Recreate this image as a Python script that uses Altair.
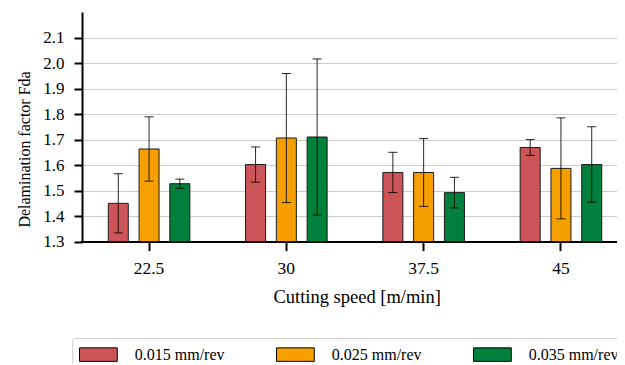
import altair as alt
import pandas as pd

speeds = ["22.5", "30", "37.5", "45"]
feeds = ["0.015 mm/rev", "0.025 mm/rev", "0.035 mm/rev"]
fda_015 = [1.450, 1.602, 1.571, 1.669]
fda_025 = [1.663, 1.706, 1.571, 1.587]
fda_035 = [1.527, 1.710, 1.492, 1.602]
err_015 = [0.116, 0.069, 0.079, 0.031]
err_025 = [0.126, 0.253, 0.133, 0.198]
err_035 = [0.018, 0.306, 0.060, 0.148]
colors = ["#CD5557", "#F5A000", "#00803A"]
y_ticks = [1.3, 1.4, 1.5, 1.6, 1.7, 1.8, 1.9, 2.0, 2.1]

rows = []
for feed, vals, errs in zip(feeds, [fda_015, fda_025, fda_035], [err_015, err_025, err_035]):
    for s, v, e in zip(speeds, vals, errs):
        rows.append(dict(speed=s, feed=feed, fda=v, lo=v - e, hi=v + e))
df = pd.DataFrame(rows)

FONT = "Liberation Serif"

x_axis = alt.Axis(
    title="Cutting speed [m/min]",
    labelAngle=0,
    grid=False,
    domainColor="black",
    domainWidth=2,
    tickColor="black",
    tickWidth=2,
    tickSize=9,
    labelFont=FONT,
    labelFontSize=17.5,
    labelPadding=9,
    labelColor="black",
    titleFont=FONT,
    titleFontSize=18.5,
    titleFontWeight="normal",
    titleColor="black",
    titleX=274.7,
    titleY=54.7,
    titleBaseline="middle",
    titleAlign="center",
)
y_axis = alt.Axis(
    values=y_ticks,
    format=".1f",
    labelOverlap=False,
    title="Delamination factor Fda",
    grid=True,
    gridColor="#cccccc",
    gridWidth=1,
    domainColor="black",
    domainWidth=2,
    tickColor="black",
    tickWidth=2,
    tickSize=8,
    labelFont=FONT,
    labelFontSize=17,
    labelPadding=10,
    labelColor="black",
    titleFont=FONT,
    titleFontSize=16,
    titleFontWeight="normal",
    titleColor="black",
    titleX=-58,
    titleY=137,
    titleAngle=270,
    titleBaseline="middle",
    titleAlign="center",
)

x_enc = alt.X(
    "speed:N",
    sort=speeds,
    scale=alt.Scale(range=[-1.6, 547.6], paddingInner=0.406, paddingOuter=0.203),
    axis=x_axis,
)
xoff = alt.XOffset("feed:N", sort=feeds, scale=alt.Scale(paddingInner=0.35, paddingOuter=0))

y_scale = alt.Scale(domain=[1.3, 2.2], zero=False, nice=False)

bars = alt.Chart(df).mark_bar(stroke="#1a1a1a", strokeWidth=1).encode(
    x=x_enc,
    xOffset=xoff,
    y=alt.Y("fda:Q", scale=y_scale, axis=y_axis),
    y2=alt.Y2Datum(1.3),
    color=alt.Color(
        "feed:N",
        sort=feeds,
        scale=alt.Scale(domain=feeds, range=colors),
        legend=alt.Legend(
            title=None,
            orient="none",
            legendX=-9.7,
            legendY=326,
            direction="horizontal",
            symbolType="M-0.69,-0.5H2.11V0.5H-0.69Z",
            symbolSize=729,
            symbolStrokeColor="black",
            symbolStrokeWidth=1,
            symbolOpacity=1,
            labelFontSize=16,
            labelFont=FONT,
            labelColor="black",
            labelOffset=32,
            columnPadding=47,
            padding=2.5,
            strokeColor="#cccccc",
            cornerRadius=3,
            fillColor="white",
        ),
    ),
)

rules = alt.Chart(df).mark_rule(color="black", strokeWidth=1, opacity=0.85).encode(
    x=x_enc, xOffset=xoff, y=alt.Y("lo:Q", scale=y_scale, axis=y_axis), y2="hi:Q"
)
cap_lo = alt.Chart(df).mark_tick(color="black", thickness=1, size=9, orient="horizontal", opacity=0.85).encode(
    x=x_enc, xOffset=xoff, y=alt.Y("lo:Q", scale=y_scale, axis=y_axis)
)
cap_hi = alt.Chart(df).mark_tick(color="black", thickness=1, size=9, orient="horizontal", opacity=0.85).encode(
    x=x_enc, xOffset=xoff, y=alt.Y("hi:Q", scale=y_scale, axis=y_axis)
)

chart = (
    alt.layer(bars, rules, cap_lo, cap_hi)
    .properties(
        width=535,
        height=229.6,
        autosize=alt.AutoSizeParams(type="none"),
        padding={"left": 74, "top": 4, "right": 0, "bottom": 123},
    )
    .configure(font=FONT)
    .configure_view(stroke="transparent")
)

chart.save("out.html", embed_options={"renderer": "svg", "actions": False})
